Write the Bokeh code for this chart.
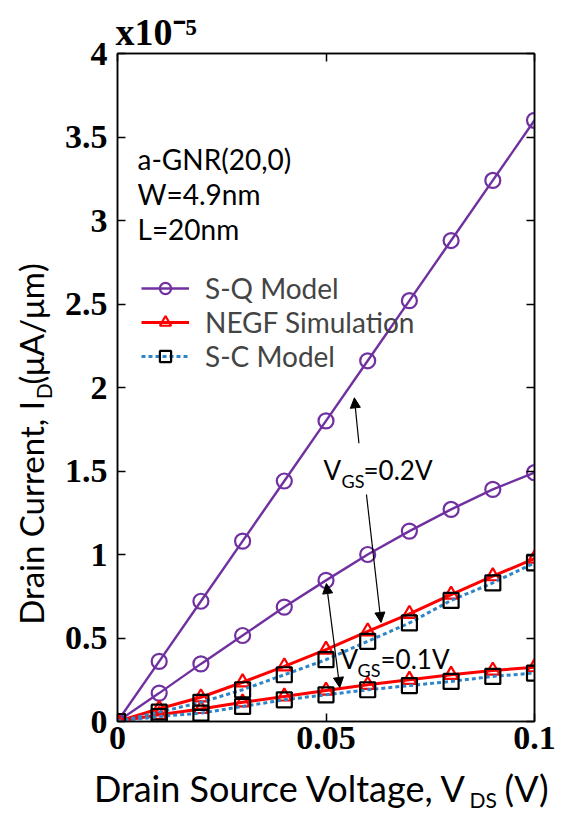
import math
from bokeh.plotting import figure
from bokeh.layouts import row, column
from bokeh.models import (Range1d, FixedTicker, LinearAxis, Label, Arrow,
                          NormalHead, Legend, LegendItem, Title)
from bokeh.embed import file_html
from bokeh.resources import INLINE

# ---------------- data (drain current in units of 1e-5) ----------------
vds = [0.0, 0.01, 0.02, 0.03, 0.04, 0.05, 0.06, 0.07, 0.08, 0.09, 0.10]
sq_vgs02 = [0.0, 0.36, 0.72, 1.08, 1.44, 1.80, 2.16, 2.52, 2.88, 3.24, 3.60]
sq_vgs01 = [0.0, 0.17, 0.345, 0.515, 0.685, 0.845, 1.00, 1.14, 1.27, 1.39, 1.49]
negf_vgs02 = [0.0, 0.076, 0.145, 0.235, 0.33, 0.43, 0.54, 0.645, 0.76, 0.87, 0.975]
negf_vgs01 = [0.0, 0.04, 0.075, 0.115, 0.15, 0.185, 0.22, 0.25, 0.28, 0.305, 0.325]
sc_vgs02 = [0.0, 0.056, 0.115, 0.19, 0.28, 0.37, 0.48, 0.59, 0.725, 0.83, 0.95]
sc_vgs01 = [0.0, 0.03, 0.05, 0.09, 0.13, 0.16, 0.19, 0.215, 0.24, 0.27, 0.29]

x_ticks = [0, 0.05, 0.1]
x_tick_labels = ["0", "0.05", "0.1"]
y_ticks = [0, 0.5, 1, 1.5, 2, 2.5, 3, 3.5, 4]
y_tick_labels = ["0", "0.5", "1", "1.5", "2", "2.5", "3", "3.5", "4"]

series_names = ["S-Q Model", "NEGF Simulation", "S-C Model"]
info_lines = ["a-GNR(20,0)", "W=4.9nm", "L=20nm"]

# arrows (data units): (x_start, y_start, x_end, y_end)
arrow_up = (0.0579, 1.666, 0.0568, 1.938)
arrow_down = (0.0597, 1.359, 0.0632, 0.593)
arrow_both = (0.0501, 0.826, 0.0533, 0.204)

PURPLE = "#7030A0"
RED = "#FF0000"
BLUE = "#2E86C8"
SANS = "Lato"
SERIF = "Liberation Serif"

# ---------------- main plot ----------------
p = figure(width=512, height=765, output_backend="svg", toolbar_location=None,
           x_range=Range1d(0, 0.1), y_range=Range1d(0, 4),
           min_border_left=61, min_border_right=34, min_border_top=53,
           min_border_bottom=44, background_fill_color="white",
           border_fill_color="white")
p.grid.visible = False
p.outline_line_color = "black"
p.outline_line_width = 1.5

xa = p.xaxis[0]
ya = p.yaxis[0]
xa.ticker = FixedTicker(ticks=x_ticks)
ya.ticker = FixedTicker(ticks=y_ticks)
xa.major_label_overrides = {t: l for t, l in zip(x_ticks, x_tick_labels)}
ya.major_label_overrides = {t: l for t, l in zip(y_ticks, y_tick_labels)}
for ax in (xa, ya):
    ax.major_tick_in = 8
    ax.major_tick_out = 0
    ax.minor_tick_line_color = None
    ax.axis_line_color = "black"
    ax.axis_line_width = 1.5
    ax.major_tick_line_width = 1.5
    ax.major_label_text_font = SERIF
    ax.major_label_text_font_style = "bold"
    ax.major_label_text_font_size = "34px"
    ax.major_label_text_color = "black"
xa.major_label_standoff = 5
ya.major_label_standoff = 10

top = LinearAxis(ticker=FixedTicker(ticks=x_ticks),
                 major_label_overrides={t: "" for t in x_ticks})
right = LinearAxis(ticker=FixedTicker(ticks=y_ticks),
                   major_label_overrides={t: "" for t in y_ticks})
for ax in (top, right):
    ax.major_tick_in = 8
    ax.major_tick_out = 0
    ax.minor_tick_line_color = None
    ax.axis_line_color = "black"
    ax.axis_line_width = 1.5
    ax.major_tick_line_width = 1.5
    ax.major_label_text_font_size = "1px"
    ax.major_label_standoff = 0
p.add_layout(top, "above")
p.add_layout(right, "right")

# exponent of the y axis
p.add_layout(Title(text="x10\u207b\u2075", align="left", offset=-2,
                   text_font=SERIF, text_font_style="bold",
                   text_font_size="38px", standoff=2,
                   vertical_align="bottom", text_color="black"), "above")

sq_l1 = p.line(vds, sq_vgs02, line_color=PURPLE, line_width=2.4)
sq_m1 = p.scatter(vds, sq_vgs02, marker="circle", size=15, line_color=PURPLE,
                  line_width=2.2, fill_color=None)
p.line(vds, sq_vgs01, line_color=PURPLE, line_width=2.4)
p.scatter(vds, sq_vgs01, marker="circle", size=15, line_color=PURPLE,
          line_width=2.2, fill_color=None)

ng_l1 = p.line(vds, negf_vgs02, line_color=RED, line_width=3)
ng_m1 = p.scatter(vds, negf_vgs02, marker="triangle", size=14, line_color=RED,
                  line_width=2.2, fill_color=None)
p.line(vds, negf_vgs01, line_color=RED, line_width=3)
p.scatter(vds, negf_vgs01, marker="triangle", size=14, line_color=RED,
          line_width=2.2, fill_color=None)

sc_l1 = p.line(vds, sc_vgs02, line_color=BLUE, line_width=3, line_dash="4 3")
sc_m1 = p.scatter(vds, sc_vgs02, marker="square", size=15, line_color="black",
                  line_width=2.2, fill_color=None)
p.line(vds, sc_vgs01, line_color=BLUE, line_width=3, line_dash="4 3")
p.scatter(vds, sc_vgs01, marker="square", size=15, line_color="black",
          line_width=2.2, fill_color=None)

legend = Legend(items=[
    LegendItem(label=series_names[0], renderers=[sq_l1, sq_m1]),
    LegendItem(label=series_names[1], renderers=[ng_l1, ng_m1]),
    LegendItem(label=series_names[2], renderers=[sc_l1, sc_m1]),
], location=(24, 348), padding=0, margin=0, spacing=-7,
    glyph_width=48, glyph_height=28, label_height=28, label_standoff=16,
    label_text_font=SANS, label_text_font_size="28px",
    border_line_color=None, background_fill_alpha=0)
p.add_layout(legend)


def head():
    return NormalHead(size=10, fill_color="black", line_color="black",
                      line_width=1)


p.add_layout(Arrow(x_start=arrow_up[0], y_start=arrow_up[1], x_end=arrow_up[2],
                   y_end=arrow_up[3], end=head(), line_width=1.2))
p.add_layout(Arrow(x_start=arrow_down[0], y_start=arrow_down[1],
                   x_end=arrow_down[2], y_end=arrow_down[3], end=head(),
                   line_width=1.2))
p.add_layout(Arrow(x_start=arrow_both[0], y_start=arrow_both[1],
                   x_end=arrow_both[2], y_end=arrow_both[3], start=head(),
                   end=head(), line_width=1.2))


def lab(fig, x, y, text, size, units="screen", font=SANS, style="normal",
        angle=0.0, align="left", baseline="middle"):
    fig.add_layout(Label(x=x, y=y, x_units=units, y_units=units, text=text,
                         text_font=font, text_font_size=size,
                         text_font_style=style, angle=angle,
                         text_align=align, text_baseline=baseline,
                         text_color="black"))


for i, t in enumerate(info_lines):
    lab(p, 20, 563 - 35 * i, t, "28px")

lab(p, 206, 252, "V", "26px")
lab(p, 224, 241, "GS", "18px")
lab(p, 246, 252, "=0.2V", "26px")
lab(p, 223, 63, "V", "26px")
lab(p, 240, 52, "GS", "18px")
lab(p, 263, 63, "=0.1V", "26px")


# ---------------- label strips (local pixel coordinates, y downwards) -------
def strip(w, h):
    f = figure(width=w, height=h, output_backend="svg", toolbar_location=None,
               x_range=Range1d(0, w), y_range=Range1d(h, 0),
               x_axis_type=None, y_axis_type=None, min_border=0,
               outline_line_color=None, background_fill_color="white",
               border_fill_color="white")
    f.title.visible = False
    f.grid.visible = False
    return f


# y-axis title strip: page x 0..56, page y 0..765 (pieces joined at the
# subscript: main part ends where the subscript starts)
ylab_fig = strip(56, 765)
lab(ylab_fig, 30, 398, "Drain Current, I", "33px", units="data",
    angle=math.pi / 2, align="right")
lab(ylab_fig, 43, 396, "D", "21px", units="data", angle=math.pi / 2)
lab(ylab_fig, 30, 379, "(\u03bcA/\u03bcm)", "33px", units="data",
    angle=math.pi / 2)

# x-axis title strip: page x 0..568, page y 765..828
xlab_fig = strip(568, 63)
lab(xlab_fig, 467, 22, "Drain Source Voltage, V", "36px", units="data",
    align="right")
lab(xlab_fig, 469, 34, "DS", "21px", units="data")
lab(xlab_fig, 504, 22, "(V)", "36px", units="data")

layout = column(row(ylab_fig, p), xlab_fig)
open("out.html", "w").write(file_html(layout, INLINE))
